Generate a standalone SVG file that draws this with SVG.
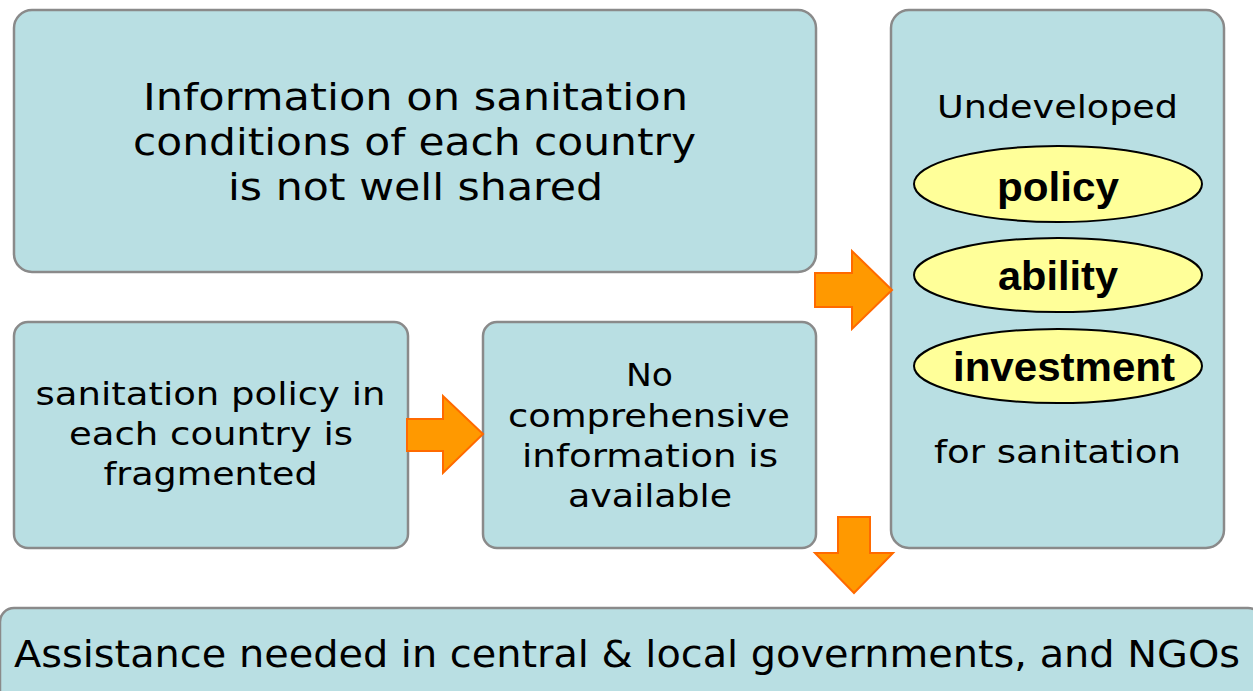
<svg xmlns="http://www.w3.org/2000/svg" width="1253" height="691" viewBox="0 0 1253 691">
<style>
.box{fill:#B9DFE3;stroke:#8A8A8A;stroke-width:2.5}
.t{font-family:"DejaVu Sans",Verdana,sans-serif;fill:#000;text-anchor:middle}
.ell{fill:#FFFF99;stroke:#000;stroke-width:2}
.b{font-family:"Liberation Sans",Arial,sans-serif;font-weight:bold;font-size:40px;fill:#000;text-anchor:middle}
.arr{fill:#FF9900;stroke:#FF6A00;stroke-width:2;stroke-linejoin:miter}
</style>
<rect width="1253" height="691" fill="#fff"/>
<g id="top">
<rect class="box" x="14" y="10" width="802" height="262" rx="18"/>
<text class="t" font-size="38" x="415.5" y="110" textLength="545" lengthAdjust="spacingAndGlyphs">Information on sanitation</text>
<text class="t" font-size="38" x="414.5" y="155" textLength="563" lengthAdjust="spacingAndGlyphs">conditions of each country</text>
<text class="t" font-size="38" x="415.5" y="200" textLength="375" lengthAdjust="spacingAndGlyphs">is not well shared</text>
</g>
<g id="policy-frag">
<rect class="box" x="14" y="322" width="394" height="226" rx="14"/>
<text class="t" font-size="32" x="210.5" y="405" textLength="350" lengthAdjust="spacingAndGlyphs">sanitation policy in</text>
<text class="t" font-size="32" x="211" y="445" textLength="284" lengthAdjust="spacingAndGlyphs">each country is</text>
<text class="t" font-size="32" x="210.5" y="485" textLength="214" lengthAdjust="spacingAndGlyphs">fragmented</text>
</g>
<g id="no-info">
<rect class="box" x="483" y="322" width="333" height="226" rx="14"/>
<text class="t" font-size="32" x="649.5" y="386" textLength="47" lengthAdjust="spacingAndGlyphs">No</text>
<text class="t" font-size="32" x="649" y="427" textLength="282" lengthAdjust="spacingAndGlyphs">comprehensive</text>
<text class="t" font-size="32" x="650" y="467" textLength="256" lengthAdjust="spacingAndGlyphs">information is</text>
<text class="t" font-size="32" x="650" y="507" textLength="164" lengthAdjust="spacingAndGlyphs">available</text>
</g>
<g id="undeveloped">
<rect class="box" x="891" y="10" width="333" height="538" rx="18"/>
<text class="t" font-size="32" x="1057.5" y="118" textLength="241" lengthAdjust="spacingAndGlyphs">Undeveloped</text>
<ellipse class="ell" cx="1058" cy="184" rx="144" ry="38"/>
<text class="b" x="1058" y="201" textLength="122" lengthAdjust="spacingAndGlyphs">policy</text>
<ellipse class="ell" cx="1058" cy="275" rx="144" ry="37"/>
<text class="b" x="1058" y="290" textLength="120" lengthAdjust="spacingAndGlyphs">ability</text>
<ellipse class="ell" cx="1058" cy="366" rx="144" ry="37"/>
<text class="b" x="1064" y="381" textLength="222" lengthAdjust="spacingAndGlyphs">investment</text>
<text class="t" font-size="32" x="1057.5" y="463" textLength="247" lengthAdjust="spacingAndGlyphs">for sanitation</text>
</g>
<g id="assistance">
<rect class="box" x="0" y="608" width="1262" height="100" rx="14"/>
<text class="t" font-size="38" x="627" y="667" textLength="1226" lengthAdjust="spacingAndGlyphs">Assistance needed in central &amp; local governments, and NGOs</text>
</g>
<g id="connectors">
<polygon class="arr" points="815,273 852,273 852,251 892,290 852,329 852,307 815,307"/>
<polygon class="arr" points="407,419 443,419 443,396 483,434 443,473 443,451 407,451"/>
<polygon class="arr" points="838,517 870,517 870,553 893,553 854,593 815,553 838,553"/>
</g>
</svg>
